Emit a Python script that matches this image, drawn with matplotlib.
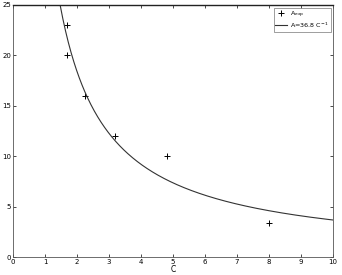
import numpy as np
import matplotlib
matplotlib.use('Agg')
import matplotlib.pyplot as plt

# experimental points
c_exp = [1.7, 1.7, 2.25, 3.2, 4.8, 8.0]
a_exp = [23, 20, 16, 12, 10, 3.4]

# fitted law A = k / C
k_fit = 36.8
c_fit = np.linspace(k_fit / 25.0, 10, 400)
a_fit = k_fit / c_fit

x_ticks = list(range(0, 11))
y_ticks = [0, 5, 10, 15, 20, 25]

plt.rcParams['font.family'] = 'DejaVu Sans'
fig = plt.figure(figsize=(3.42, 2.75), dpi=100)
ax = fig.add_axes([0.038, 0.065, 0.936, 0.917])

ax.plot(c_exp, a_exp, '+', color='black', markersize=5, markeredgewidth=0.7,
        label=r'A$_{\rm exp}$')
ax.plot(c_fit, a_fit, '-', color='#333333', linewidth=0.8,
        label=r'A=36.8 C$^{-1}$')

ax.set_xlim(0, 10)
ax.set_ylim(0, 25)
ax.set_xticks(x_ticks)
ax.set_yticks(y_ticks)
ax.tick_params(direction='in', length=2, width=0.5, labelsize=5, pad=1.5,
               top=True, right=True)
for s in ax.spines.values():
    s.set_linewidth(0.6)
    s.set_color('#555555')
ax.spines['top'].set_linewidth(1.0)
ax.spines['top'].set_color('#222222')

ax.set_xlabel('C', fontsize=5.5, labelpad=0)

leg = ax.legend(loc='upper right', fontsize=4.6, frameon=True, fancybox=False,
                edgecolor='#555555', handlelength=1.8, handletextpad=0.5,
                borderpad=0.3, labelspacing=0.15, borderaxespad=0.4)
leg.get_frame().set_linewidth(0.5)

fig.savefig('out.png', dpi=100)
